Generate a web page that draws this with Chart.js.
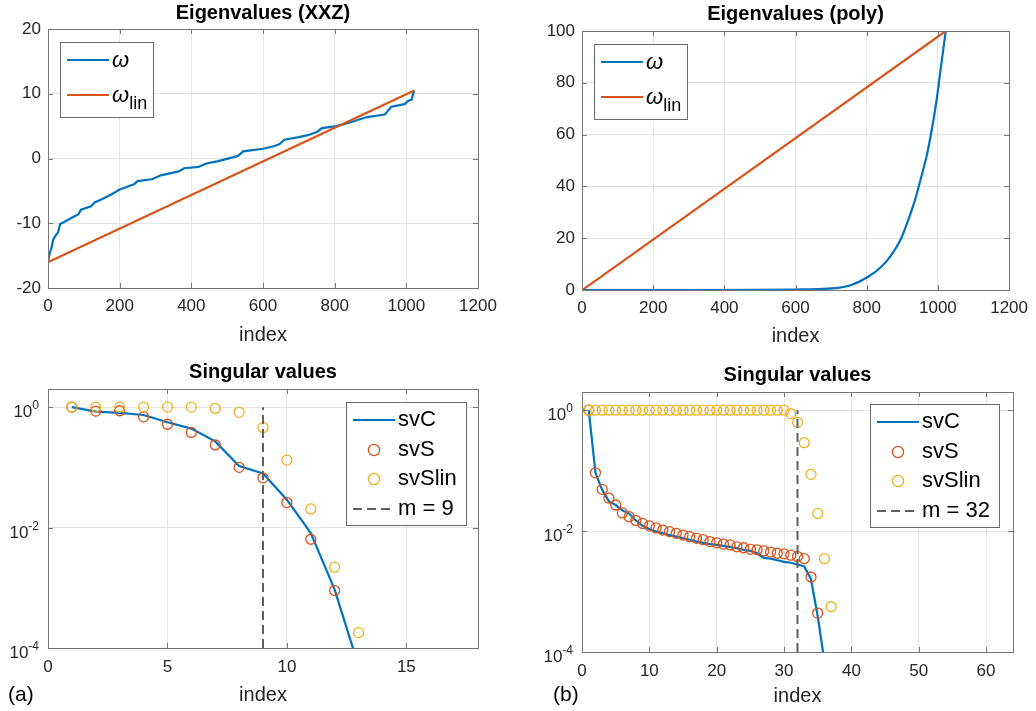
<!DOCTYPE html>
<html>
<head>
<meta charset="utf-8">
<title>Eigenvalues and singular values</title>
<script src="https://cdn.jsdelivr.net/npm/chart.js@4.4.1/dist/chart.umd.min.js"></script>
<style>
  html, body { margin: 0; padding: 0; background: #fff; }
  #fig { position: relative; width: 1036px; height: 711px; overflow: hidden; background: #fff; }
  #fig canvas { position: absolute; }
</style>
</head>
<body>
<div id="fig">
  <canvas id="c-xxz" width="518" height="352" style="left:0;top:0"></canvas>
  <canvas id="c-poly" width="518" height="352" style="left:518px;top:0"></canvas>
  <canvas id="c-sva" width="518" height="359" style="left:0;top:352px"></canvas>
  <canvas id="c-svb" width="518" height="359" style="left:518px;top:352px"></canvas>
</div>
<script>
// ============================================================
// Data
// ============================================================

// Eigenvalues of the XXZ model, sorted
const xxzIndex = [1, 3, 6, 10, 14, 20, 28, 34, 45, 65, 85, 92, 120, 130, 150, 175, 200, 240, 250, 290,
  315, 340, 365, 380, 420, 440, 475, 510, 530, 545, 600, 630, 645, 660, 700, 725, 750, 765, 805, 845,
  890, 940, 958, 995, 1005, 1015, 1018, 1022];
const xxzOmega = [-15.8, -15.0, -14.4, -13.8, -12.6, -12.0, -11.4, -10.1, -9.8, -9.2, -8.6, -7.9, -7.4, -6.8, -6.3, -5.6, -4.8, -4.0, -3.5, -3.2,
  -2.6, -2.3, -2.0, -1.5, -1.3, -0.8, -0.4, 0.1, 0.4, 1.1, 1.5, 1.9, 2.2, 2.9, 3.3, 3.6, 4.1, 4.7, 5.0, 5.6,
  6.4, 6.8, 8.0, 8.4, 8.9, 9.1, 9.8, 10.5];
const xxzLinIndex = [1, 1022];
const xxzLinOmega = [-16, 10.5];

// Eigenvalues of the polynomial model
const polyIndex = [1, 300, 500, 600, 664, 720, 757, 804, 841, 869, 897, 915, 934, 952, 971, 985, 997, 1008, 1022];
const polyOmega = [0, 0, 0.05, 0.2, 0.35, 0.8, 1.9, 5.1, 9.0, 13.5, 20, 26.4, 34, 43, 53.4, 63.7, 74, 85.6, 100];
const polyLinIndex = [1, 1022];
const polyLinOmega = [0, 100];

// Singular values, case (a)
const mA = 9;
const svIndexA = [1, 2, 3, 4, 5, 6, 7, 8, 9, 10, 11, 12, 13];
const svCA = [1.0, 0.84, 0.80, 0.74, 0.56, 0.44, 0.27, 0.105, 0.079, 0.029, 0.0081, 0.00093, 0.00005];
const svSA = [1.0, 0.86, 0.87, 0.69, 0.52, 0.38, 0.235, 0.10, 0.067, 0.026, 0.0064, 0.0009];
const svSlinA = [1.0, 1.0, 1.0, 1.0, 1.0, 1.0, 0.95, 0.82, 0.46, 0.132, 0.0204, 0.0022, 0.00018];

// Singular values, case (b)
const mB = 32;
const svIndexB = [1, 2, 3, 4, 5, 6, 7, 8, 9, 10, 11, 12, 13, 14, 15, 16, 17, 18, 19, 20,
  21, 22, 23, 24, 25, 26, 27, 28, 29, 30, 31, 32, 33, 34, 35, 36, 37];
const svCB = [1.0, 0.092, 0.048, 0.031, 0.027, 0.022, 0.0195, 0.015, 0.0122, 0.0108, 0.0098, 0.0092, 0.0086, 0.0081, 0.0076, 0.0072, 0.0067, 0.0064, 0.0061, 0.0059,
  0.0057, 0.0055, 0.0052, 0.0049, 0.0047, 0.0043, 0.0036, 0.0035, 0.0033, 0.0031, 0.0030, 0.0028, 0.0026, 0.0016, 0.00039, 0.00007];
const svSB = [1.0, 0.092, 0.049, 0.035, 0.027, 0.020, 0.0173, 0.015, 0.0134, 0.0122, 0.0113, 0.0104, 0.0098, 0.0092, 0.0086, 0.0081, 0.0076, 0.0072, 0.0067, 0.0064,
  0.0061, 0.0059, 0.0055, 0.0053, 0.0050, 0.0049, 0.0047, 0.0045, 0.0043, 0.0042, 0.0040, 0.0038, 0.0035, 0.00174, 0.00044];
const svSlinB = [1.0, 1.0, 1.0, 1.0, 1.0, 1.0, 1.0, 1.0, 1.0, 1.0, 1.0, 1.0, 1.0, 1.0, 1.0, 1.0, 1.0, 1.0, 1.0, 1.0,
  1.0, 1.0, 1.0, 1.0, 1.0, 1.0, 1.0, 1.0, 1.0, 1.0, 0.88, 0.63, 0.29, 0.087, 0.0196, 0.0035, 0.00056];

const LOG_TICKS = [1e-4, 1e-2, 1];

// ============================================================
// Style
// ============================================================

const FONT = '"Liberation Sans", Arial, Helvetica, sans-serif';
const BLUE = '#0072BD';
const RED = '#D95319';
const YELLOW = '#EDB120';
const DASH = '#5f5f5f';
const GRID = '#e4e4e4';
const FRAME = '#777777';
const LEGEND_EDGE = '#6a6a6a';
const TICK_TEXT = '#262626';

const TICK_SIZE = 17;
const EXP_SIZE = 12;
const LABEL_SIZE = 20;
const TITLE_SIZE = 20;
const LEGEND_SIZE = 22;
const TICK_LEN = 5;
const LINE_W = 2.2;

// ============================================================
// Helpers
// ============================================================

function points(xs, ys) {
  return ys.map((y, i) => ({ x: xs[i], y }));
}

function lineSet(label, xs, ys, color, order, extra) {
  return Object.assign({
    label,
    data: points(xs, ys),
    showLine: true,
    borderColor: color,
    backgroundColor: color,
    borderWidth: LINE_W,
    pointRadius: 0,
    order,
  }, extra || {});
}

function circleSet(label, xs, ys, color, order) {
  return {
    label,
    data: points(xs, ys),
    showLine: false,
    borderColor: color,
    backgroundColor: 'rgba(0,0,0,0)',
    pointBackgroundColor: 'rgba(0,0,0,0)',
    pointStyle: 'circle',
    pointRadius: 5,
    pointBorderWidth: 1.3,
    borderWidth: 1.3,
    order,
  };
}

function markerSet(m, order) {
  return lineSet(`m = ${m}`, [m, m], [1e-4, 1], DASH, order, { borderWidth: 2, borderDash: [9, 5] });
}

// ============================================================
// Plugins
// ============================================================

// Axes box with inward tick marks on all four sides
const axesFrame = {
  id: 'axesFrame',
  afterDatasetsDraw(chart) {
    const { ctx, chartArea: a, scales: { x, y } } = chart;
    ctx.save();
    ctx.strokeStyle = FRAME;
    ctx.lineWidth = 1;
    ctx.beginPath();
    x.ticks.forEach(t => {
      const px = Math.round(x.getPixelForValue(t.value)) + 0.5;
      ctx.moveTo(px, a.bottom); ctx.lineTo(px, a.bottom - TICK_LEN);
      ctx.moveTo(px, a.top); ctx.lineTo(px, a.top + TICK_LEN);
    });
    y.ticks.forEach(t => {
      const py = Math.round(y.getPixelForValue(t.value)) + 0.5;
      ctx.moveTo(a.left, py); ctx.lineTo(a.left + TICK_LEN, py);
      ctx.moveTo(a.right, py); ctx.lineTo(a.right - TICK_LEN, py);
    });
    ctx.stroke();
    ctx.strokeRect(Math.round(a.left) + 0.5, Math.round(a.top) + 0.5,
      Math.round(a.right - a.left), Math.round(a.bottom - a.top));
    ctx.restore();
  }
};

// Powers of ten written as 10 with a raised exponent
const logTickLabels = {
  id: 'logTickLabels',
  afterDraw(chart, args, opts) {
    const y = chart.scales.y;
    if (y.type !== 'logarithmic') return;
    const ctx = chart.ctx;
    const right = chart.chartArea.left - opts.gap;
    ctx.save();
    ctx.fillStyle = TICK_TEXT;
    ctx.textAlign = 'right';
    ctx.textBaseline = 'alphabetic';
    y.ticks.forEach(t => {
      const py = y.getPixelForValue(t.value);
      const exp = String(Math.round(Math.log10(t.value)));
      ctx.font = `${EXP_SIZE}px ${FONT}`;
      const ew = ctx.measureText(exp).width;
      ctx.fillText(exp, right, py + 2);
      ctx.font = `${TICK_SIZE}px ${FONT}`;
      ctx.fillText('10', right - ew, py + 10);
    });
    ctx.restore();
  }
};

function labelParts(label) {
  const k = label.indexOf('_');
  return k < 0 ? { main: label, sub: '' } : { main: label.slice(0, k), sub: label.slice(k + 1) };
}

function mainFont(opts) {
  return `${opts.italic ? 'italic ' : ''}${LEGEND_SIZE}px ${FONT}`;
}

function subFont() {
  return `${LEGEND_SIZE - 4}px ${FONT}`;
}

function measureLabel(ctx, label, opts) {
  const { main, sub } = labelParts(label);
  ctx.font = mainFont(opts);
  let w = ctx.measureText(main).width;
  if (sub) {
    ctx.font = subFont();
    w += ctx.measureText(sub).width;
  }
  return w;
}

// Boxed legend placed inside a corner of the axes
const boxLegend = {
  id: 'boxLegend',
  afterDraw(chart, args, opts) {
    const { ctx, chartArea: a } = chart;
    const sets = chart.data.datasets;
    ctx.save();
    const textW = Math.max(...sets.map(ds => measureLabel(ctx, ds.label, opts)));
    const w = Math.round(opts.textX + textW + opts.padRight);
    const h = opts.height;
    const left = Math.round(opts.side === 'left' ? a.left + opts.dx : a.right - opts.dx - w);
    const top = Math.round(a.top + opts.dy);

    ctx.fillStyle = '#fff';
    ctx.fillRect(left, top, w, h);
    ctx.strokeStyle = LEGEND_EDGE;
    ctx.lineWidth = 1;
    ctx.strokeRect(left + 0.5, top + 0.5, w, h);

    sets.forEach((ds, i) => {
      const y = top + opts.rows[i];
      ctx.save();
      ctx.strokeStyle = ds.borderColor;
      if (ds.showLine) {
        ctx.lineWidth = ds.borderWidth;
        ctx.setLineDash(ds.borderDash || []);
        ctx.beginPath();
        ctx.moveTo(left + 7, y);
        ctx.lineTo(left + 49, y);
        ctx.stroke();
      } else {
        ctx.lineWidth = ds.pointBorderWidth;
        ctx.beginPath();
        ctx.arc(left + 28, y, ds.pointRadius * 1.12, 0, Math.PI * 2);
        ctx.stroke();
      }
      ctx.restore();

      const { main, sub } = labelParts(ds.label);
      ctx.fillStyle = '#000';
      ctx.textAlign = 'left';
      ctx.textBaseline = 'middle';
      ctx.font = mainFont(opts);
      const x0 = left + opts.textX;
      ctx.fillText(main, x0, y + (opts.italic ? 1 : 0));
      if (sub) {
        const mw = ctx.measureText(main).width;
        ctx.font = subFont();
        ctx.textBaseline = 'alphabetic';
        ctx.fillText(sub, x0 + mw, y + 14);
      }
    });
    ctx.restore();
  }
};

// Panel letter under the axes
const panelTag = {
  id: 'panelTag',
  afterDraw(chart, args, opts) {
    if (!opts.text) return;
    const ctx = chart.ctx;
    ctx.save();
    ctx.fillStyle = '#000';
    ctx.font = `21px ${FONT}`;
    ctx.textAlign = 'left';
    ctx.textBaseline = 'alphabetic';
    ctx.fillText(opts.text, opts.x, opts.y);
    ctx.restore();
  }
};

// ============================================================
// Chart construction
// ============================================================

function xAxis(panel) {
  return {
    type: 'linear',
    min: panel.xMin,
    max: panel.xMax,
    afterFit(scale) { scale.height = panel.frame.bottom; },
    grid: { color: GRID, lineWidth: 1, drawTicks: false },
    border: { display: false },
    ticks: {
      stepSize: panel.xStep,
      includeBounds: false,
      padding: panel.xTickPad,
      color: TICK_TEXT,
      font: { family: FONT, size: TICK_SIZE },
      maxRotation: 0,
      callback: v => String(v),
    },
    title: {
      display: true,
      text: 'index',
      color: TICK_TEXT,
      font: { family: FONT, size: LABEL_SIZE },
      padding: { top: 0, bottom: panel.xTitlePad },
    },
  };
}

function yAxis(panel) {
  const axis = {
    min: panel.yMin,
    max: panel.yMax,
    afterFit(scale) { scale.width = panel.frame.left; },
    grid: { color: GRID, lineWidth: 1, drawTicks: false },
    border: { display: false },
  };
  if (panel.log) {
    axis.type = 'logarithmic';
    axis.afterBuildTicks = scale => { scale.ticks = LOG_TICKS.map(value => ({ value })); };
    axis.ticks = { display: false };
  } else {
    axis.type = 'linear';
    axis.ticks = {
      stepSize: panel.yStep,
      padding: 7,
      color: TICK_TEXT,
      font: { family: FONT, size: TICK_SIZE },
      callback: v => String(v),
    };
  }
  return axis;
}

function buildChart(canvasId, panel) {
  return new Chart(document.getElementById(canvasId), {
    type: 'scatter',
    data: { datasets: panel.datasets },
    options: {
      responsive: false,
      animation: false,
      devicePixelRatio: 1,
      events: [],
      layout: { padding: { left: 0, right: panel.frame.right, top: 0, bottom: 0 } },
      scales: { x: xAxis(panel), y: yAxis(panel) },
      plugins: {
        legend: { display: false },
        tooltip: { enabled: false },
        title: {
          display: true,
          text: panel.title,
          fullSize: false,
          color: '#000',
          font: { family: FONT, size: TITLE_SIZE, weight: 'bold', lineHeight: 1.2 },
          padding: panel.titlePad,
        },
        boxLegend: panel.legend,
        logTickLabels: { gap: 9 },
        panelTag: panel.tag || {},
      },
    },
    plugins: [axesFrame, logTickLabels, boxLegend, panelTag],
  });
}

const OMEGA_LEGEND = { side: 'left', dx: 12, dy: 13, rows: [18, 53], height: 75, textX: 52, padRight: 6, italic: true };

function sigmaLegend(dx, dy) {
  return { side: 'right', dx, dy, rows: [18, 48, 77, 107], height: 123, textX: 52, padRight: 9, italic: false };
}

function init() {
  buildChart('c-xxz', {
    title: 'Eigenvalues (XXZ)',
    titlePad: { top: 1.3, bottom: 3.7 },
    frame: { left: 48, right: 40, bottom: 64 },
    xMin: 0, xMax: 1200, xStep: 200, xTickPad: 8, xTitlePad: 5,
    yMin: -20, yMax: 20, yStep: 10,
    datasets: [
      lineSet('ω', xxzIndex, xxzOmega, BLUE, 2),
      lineSet('ω_lin', xxzLinIndex, xxzLinOmega, RED, 1),
    ],
    legend: OMEGA_LEGEND,
  });

  buildChart('c-poly', {
    title: 'Eigenvalues (poly)',
    titlePad: { top: 2.5, bottom: 4.5 },
    frame: { left: 64, right: 24, bottom: 62 },
    xMin: 0, xMax: 1200, xStep: 200, xTickPad: 8, xTitlePad: 4,
    yMin: 0, yMax: 100, yStep: 20,
    datasets: [
      lineSet('ω', polyIndex, polyOmega, BLUE, 2, { cubicInterpolationMode: 'monotone' }),
      lineSet('ω_lin', polyLinIndex, polyLinOmega, RED, 1),
    ],
    legend: OMEGA_LEGEND,
  });

  buildChart('c-sva', {
    title: 'Singular values',
    titlePad: { top: 8, bottom: 5 },
    frame: { left: 48, right: 40, bottom: 63 },
    xMin: 0, xMax: 18, xStep: 5, xTickPad: 9, xTitlePad: 4,
    yMin: 1e-4, yMax: 2, log: true,
    datasets: [
      lineSet('svC', svIndexA, svCA, BLUE, 4),
      circleSet('svS', svIndexA, svSA, RED, 3),
      circleSet('svSlin', svIndexA, svSlinA, YELLOW, 2),
      markerSet(mA, 1),
    ],
    legend: sigmaLegend(12, 13),
    tag: { text: '(a)', x: 8, y: 349 },
  });

  buildChart('c-svb', {
    title: 'Singular values',
    titlePad: { top: 11.5, bottom: 4.5 },
    frame: { left: 64, right: 23, bottom: 59 },
    xMin: 0, xMax: 64, xStep: 10, xTickPad: 9, xTitlePad: 3,
    yMin: 1e-4, yMax: 2, log: true,
    datasets: [
      lineSet('svC', svIndexB, svCB, BLUE, 4),
      circleSet('svS', svIndexB, svSB, RED, 3),
      circleSet('svSlin', svIndexB, svSlinB, YELLOW, 2),
      markerSet(mB, 1),
    ],
    legend: sigmaLegend(14, 12),
    tag: { text: '(b)', x: 35, y: 349 },
  });
}

document.addEventListener('DOMContentLoaded', init);
</script>
</body>
</html>
